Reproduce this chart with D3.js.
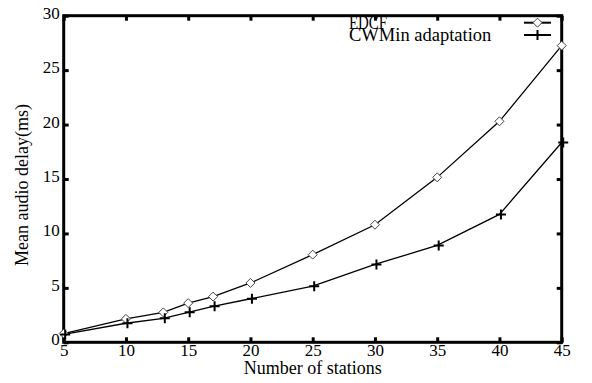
<!DOCTYPE html>
<html>
<head>
<meta charset="utf-8">
<script src="https://cdn.jsdelivr.net/npm/d3@7"></script>
<style>
  html, body { margin: 0; padding: 0; background: #fff; }
  svg text { font-family: "Liberation Serif", "Times New Roman", serif; fill: #000; }
</style>
</head>
<body>
<svg id="chart" width="592" height="383"></svg>
<script>
const stations = [5, 10, 13, 15, 17, 20, 25, 30, 35, 40, 45];
const edcf =     [0.8, 2.15, 2.75, 3.6, 4.2, 5.45, 8.05, 10.8, 15.15, 20.3, 27.25];
const cwmin =    [0.72, 1.75, 2.2, 2.75, 3.3, 4.0, 5.15, 7.15, 8.9, 11.75, 18.35];
const xTicks = [5, 10, 15, 20, 25, 30, 35, 40, 45];
const yTicks = [0, 5, 10, 15, 20, 25, 30];
const seriesNames = ["EDCF", "CWMin adaptation"];

const svg = d3.select("#chart");
const L = 63.7, R = 561.7, T = 15.7, B = 342.3;
const x = d3.scaleLinear().domain([5, 45]).range([L, R]);
const y = d3.scaleLinear().domain([0, 30]).range([B, T]);
const serif = "'Liberation Serif', 'Times New Roman', serif";

// frame
svg.append("rect").attr("x", L).attr("y", T).attr("width", R - L).attr("height", B - T)
  .attr("fill", "none").attr("stroke", "#000").attr("stroke-width", 3);

// axes
const gx = svg.append("g").attr("transform", `translate(0,${B})`)
  .call(d3.axisBottom(x).tickValues(xTicks).tickSizeInner(-5).tickSizeOuter(0).tickPadding(2));
const gy = svg.append("g").attr("transform", `translate(${L},0)`)
  .call(d3.axisLeft(y).tickValues(yTicks).tickSizeInner(-5).tickSizeOuter(0).tickPadding(4));
const gt = svg.append("g").attr("transform", `translate(0,${T})`)
  .call(d3.axisTop(x).tickValues(xTicks).tickSizeInner(-5).tickSizeOuter(0).tickFormat(""));
const gr = svg.append("g").attr("transform", `translate(${R},0)`)
  .call(d3.axisRight(y).tickValues(yTicks).tickSizeInner(-5).tickSizeOuter(0).tickFormat(""));
[gx, gy, gt, gr].forEach(g => {
  g.attr("font-family", serif).attr("font-size", 17);
  g.select(".domain").remove();
  g.selectAll(".tick line").attr("stroke", "#000").attr("stroke-width", 3);
  g.selectAll("text").attr("fill", "#000");
});
gy.selectAll("text").attr("dy", "0.32em").attr("y", -3);

// axis titles
svg.append("text").attr("x", (L + R) / 2).attr("y", 373.5).attr("text-anchor", "middle")
  .attr("font-family", serif).attr("font-size", 18).text("Number of stations");
svg.append("text").attr("transform", "translate(28,185) rotate(-90)").attr("text-anchor", "middle")
  .attr("font-family", serif).attr("font-size", 18).text("Mean audio delay(ms)");

// lines
const line = d3.line().x((d, i) => x(stations[i])).y(d => y(d));
svg.append("path").datum(edcf).attr("d", line).attr("fill", "none").attr("stroke", "#000").attr("stroke-width", 1.3);
svg.append("path").datum(cwmin).attr("d", line).attr("fill", "none").attr("stroke", "#000").attr("stroke-width", 1.3);

function diamond(g, cx, cy) {
  g.append("path").attr("d", `M${cx},${cy-4.5}L${cx+4.5},${cy}L${cx},${cy+4.5}L${cx-4.5},${cy}Z`)
    .attr("fill", "#fff").attr("stroke", "#444").attr("stroke-width", 1);
}
function cross(g, cx, cy) {
  g.append("path").attr("d", `M${cx-5},${cy}H${cx+5}M${cx},${cy-5}V${cy+5}`)
    .attr("stroke", "#000").attr("stroke-width", 2);
}
const mk = svg.append("g");
edcf.forEach((v, i) => diamond(mk, x(stations[i]), y(v)));
cwmin.forEach((v, i) => cross(mk, x(stations[i]) + 1.5, y(v)));

// legend
const lg = svg.append("g").attr("font-family", serif).attr("font-size", 18.5);
lg.append("text").attr("x", 349).attr("y", 28.5)
  .attr("textLength", 38).attr("lengthAdjust", "spacingAndGlyphs").text(seriesNames[0]);
lg.append("text").attr("x", 349).attr("y", 40.8).text(seriesNames[1]);
lg.append("line").attr("x1", 524).attr("x2", 551).attr("y1", 22.7).attr("y2", 22.7).attr("stroke", "#000").attr("stroke-width", 2);
lg.append("line").attr("x1", 524).attr("x2", 551).attr("y1", 35).attr("y2", 35).attr("stroke", "#000").attr("stroke-width", 2);
diamond(lg, 537.5, 22.7);
cross(lg, 537.5, 35);
</script>
</body>
</html>
